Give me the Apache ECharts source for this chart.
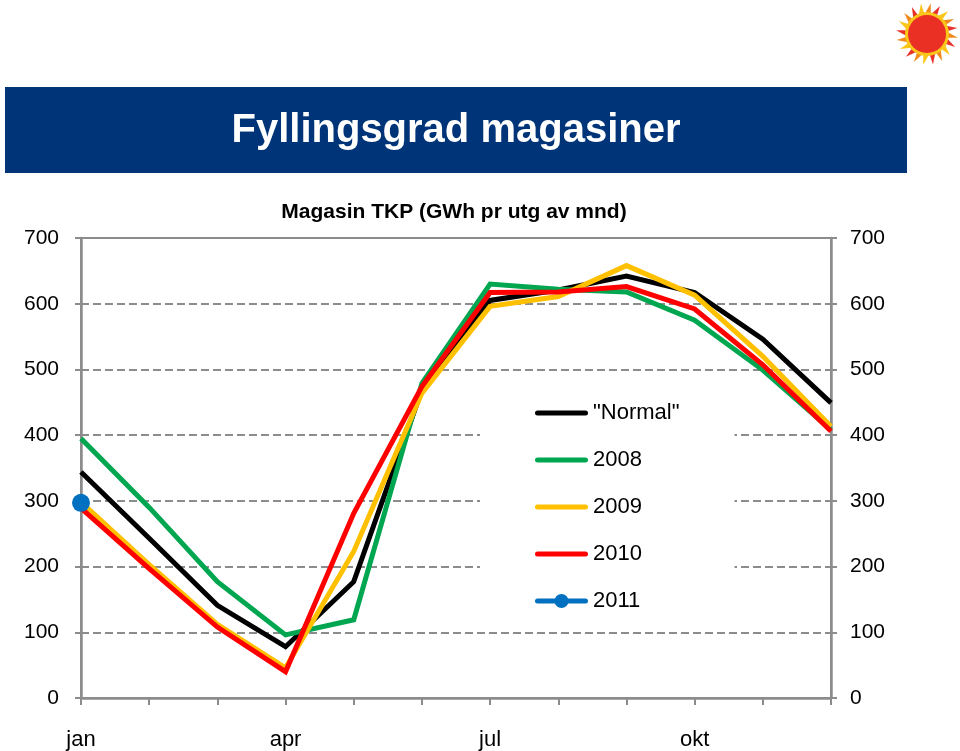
<!DOCTYPE html>
<html>
<head>
<meta charset="utf-8">
<title>Fyllingsgrad magasiner</title>
<script src="https://cdn.jsdelivr.net/npm/echarts@6/dist/echarts.min.js"></script>
<style>
    html, body { margin: 0; padding: 0; background: #fff; }
    #chart { width: 960px; height: 751px; }
</style>
</head>
<body>
<div id="chart"></div>
<script>
// måneder (kun jan/apr/jul/okt vises som etikett)
var months = ['jan', 'feb', 'mar', 'apr', 'mai', 'jun', 'jul', 'aug', 'sep', 'okt', 'nov', 'des'];

// magasin TKP, GWh pr utgang av måned
var normal = [344, 243, 141, 78, 177, 469, 605, 621, 642, 617, 546, 449];
var y2008 = [395, 290, 177, 96, 119, 479, 630, 622, 618, 575, 499, 408];
var y2009 = [298, 203, 112, 46, 223, 464, 596, 611, 658, 613, 520, 413];
var y2010 = [289, 197, 108, 40, 281, 474, 617, 618, 626, 592, 507, 406];
var y2011 = [297];

var seriesNames = ['"Normal"', '2008', '2009', '2010', '2011'];
var seriesColors = ['#000000', '#00a650', '#ffc000', '#ff0000', '#0070c0'];

var gray = '#8c8c8c';
var font = 'Liberation Sans, Arial, sans-serif';

// legendesymboler: tykk strek, og strek med prikk for 2011
var iconLine = 'path://M2.5,0 L50.5,0 A2.5,2.5 0 0 1 50.5,5 L2.5,5 A2.5,2.5 0 0 1 2.5,0 Z';
var iconDot = 'path://M2.5,4.5 L50.5,4.5 A2.5,2.5 0 0 1 50.5,9.5 L2.5,9.5 A2.5,2.5 0 0 1 2.5,4.5 Z ' +
    'M26.5,0 A7,7 0 1 1 26.49,0 Z';

(function () {
    var chart = echarts.init(document.getElementById('chart'));

    // sola oppe til høyre (logo)
    var sun = [];
    var cx = 927, cy = 34;
    var rayColors = ['#f08a1c', '#e8312a', '#fbc51a'];
    for (var i = 0; i < 20; i++) {
        var a = i / 20 * Math.PI * 2;
        var a1 = a - 0.16, a2 = a + 0.2;
        sun.push({
            type: 'polygon',
            shape: {
                points: [
                    [cx + 19 * Math.cos(a1), cy + 19 * Math.sin(a1)],
                    [cx + 31 * Math.cos(a + 0.12), cy + 31 * Math.sin(a + 0.12)],
                    [cx + 19 * Math.cos(a2), cy + 19 * Math.sin(a2)]
                ]
            },
            style: { fill: rayColors[i % 3] }
        });
    }
    sun.push({
        type: 'circle',
        shape: { cx: cx, cy: cy, r: 22 },
        style: { fill: '#fbc51a' }
    });
    sun.push({
        type: 'circle',
        shape: { cx: cx, cy: cy, r: 19 },
        style: { fill: '#ea2f25' }
    });

    var lineSeries = function (name, data, color) {
        return {
            name: name,
            type: 'line',
            data: data,
            symbol: 'none',
            lineStyle: { color: color, width: 5, join: 'miter' },
            itemStyle: { color: color },
            animation: false
        };
    };

    chart.setOption({
        animation: false,
        textStyle: { fontFamily: font },
        graphic: [
            {
                type: 'rect',
                shape: { x: 5, y: 87, width: 902, height: 86 },
                style: { fill: '#003478' }
            },
            {
                type: 'text',
                x: 456, y: 131,
                style: {
                    text: 'Fyllingsgrad magasiner',
                    fill: '#fff',
                    font: 'bold 40px ' + font,
                    textAlign: 'center',
                    textVerticalAlign: 'middle'
                }
            },
            {
                type: 'text',
                x: 454, y: 212,
                style: {
                    text: 'Magasin TKP (GWh pr utg av mnd)',
                    fill: '#000',
                    font: 'bold 21px ' + font,
                    textAlign: 'center',
                    textVerticalAlign: 'middle'
                }
            },
            {
                type: 'group',
                children: sun
            }
        ],
        grid: {
            left: 81,
            right: 129,
            top: 238,
            bottom: 53,
            show: true,
            borderColor: gray,
            borderWidth: 2
        },
        legend: {
            orient: 'vertical',
            left: 480,
            top: 385,
            data: [
                { name: seriesNames[0], icon: iconLine },
                { name: seriesNames[1], icon: iconLine },
                { name: seriesNames[2], icon: iconLine },
                { name: seriesNames[3], icon: iconLine },
                { name: seriesNames[4], icon: iconDot }
            ],
            itemWidth: 53,
            itemHeight: 22,
            itemGap: 25,
            padding: [17, 55, 10, 55],
            backgroundColor: '#fff',
            textStyle: { fontSize: 22, color: '#000', fontFamily: font }
        },
        xAxis: {
            type: 'category',
            data: months,
            boundaryGap: false,
            axisLine: { lineStyle: { color: gray, width: 2.5 } },
            axisTick: { interval: 0, length: 7, lineStyle: { color: gray, width: 2 } },
            axisLabel: { interval: 2, margin: 31, fontSize: 22, color: '#000' },
            splitLine: { show: false }
        },
        yAxis: [
            {
                type: 'value',
                min: 0,
                max: 700,
                interval: 100,
                axisLine: { show: true, lineStyle: { color: gray, width: 2.5 } },
                axisTick: { show: true, length: 6, lineStyle: { color: gray, width: 2 } },
                axisLabel: { margin: 22, fontSize: 21, color: '#000' },
                splitLine: { show: true, lineStyle: { color: gray, width: 2, type: [8, 4] } }
            },
            {
                type: 'value',
                min: 0,
                max: 700,
                interval: 100,
                position: 'right',
                axisLine: { show: true, lineStyle: { color: gray, width: 2.5 } },
                axisTick: { show: true, length: 6, lineStyle: { color: gray, width: 2 } },
                axisLabel: { margin: 19, fontSize: 21, color: '#000' },
                splitLine: { show: false }
            }
        ],
        series: [
            lineSeries(seriesNames[0], normal, seriesColors[0]),
            lineSeries(seriesNames[1], y2008, seriesColors[1]),
            lineSeries(seriesNames[2], y2009, seriesColors[2]),
            lineSeries(seriesNames[3], y2010, seriesColors[3]),
            {
                name: seriesNames[4],
                type: 'line',
                data: y2011,
                symbol: 'circle',
                symbolSize: 18,
                showSymbol: true,
                lineStyle: { color: seriesColors[4], width: 5 },
                itemStyle: { color: seriesColors[4] },
                animation: false
            }
        ]
    });
})();
</script>
</body>
</html>
